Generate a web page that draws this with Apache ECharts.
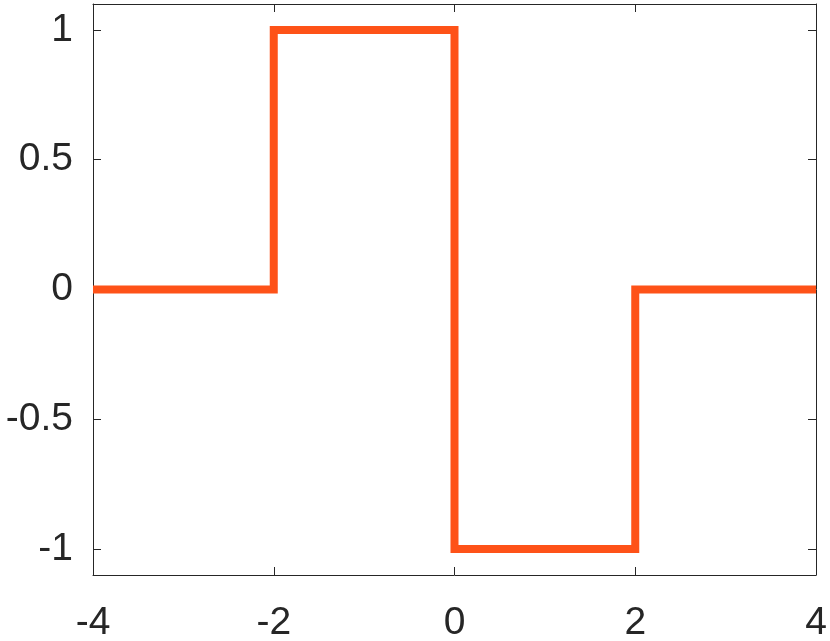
<!DOCTYPE html>
<html>
<head>
<meta charset="utf-8">
<script src="https://cdn.jsdelivr.net/npm/echarts@6/dist/echarts.min.js"></script>
<style>
  html, body { margin: 0; padding: 0; background: #fff; }
  #chart { width: 830px; height: 641px; }
</style>
</head>
<body>
<div id="chart"></div>
<script>
// step signal corners
const xValues = [-4, -2, -2, 0, 0, 2, 2, 4]
const yValues = [0, 0, 1, 1, -1, -1, 0, 0]
const xTicks = [-4, -2, 0, 2, 4]
const yTicks = [-1, -0.5, 0, 0.5, 1]

const axisColor = '#262626'
const lineColor = '#fe5218'
const labelFont = { fontFamily: 'Liberation Sans', fontSize: 39, color: axisColor }

var myChart = echarts.init(document.getElementById('chart'))

const points = xValues.map((x, i) => [x, yValues[i]])

const boxAxis = (pos, min, max, ticks, showLabel) => ({
  type: 'value',
  position: pos,
  min: min,
  max: max,
  splitLine: { show: false },
  axisLine: { show: true, onZero: false, lineStyle: { color: axisColor, width: 1 } },
  axisTick: { show: true, inside: true, length: 8, customValues: ticks, lineStyle: { color: axisColor, width: 1 } },
  axisLabel: {
    show: showLabel,
    customValues: ticks,
    ...labelFont,
    margin: pos === 'bottom' ? 29 : 20,
    formatter: v => String(v)
  }
})

const option = {
  animation: false,
  grid: { left: 93, right: 14, top: 4, bottom: 66, outerBoundsMode: 'none', containLabel: false },
  xAxis: [
    boxAxis('bottom', -4, 4, xTicks, true),
    boxAxis('top', -4, 4, xTicks, false)
  ],
  yAxis: [
    boxAxis('left', -1.1, 1.1, yTicks, true),
    boxAxis('right', -1.1, 1.1, yTicks, false)
  ],
  series: [
    {
      type: 'line',
      data: points,
      showSymbol: false,
      silent: true,
      lineStyle: { color: lineColor, width: 8, join: 'miter', cap: 'butt' }
    }
  ]
}

myChart.setOption(option)
</script>
</body>
</html>
